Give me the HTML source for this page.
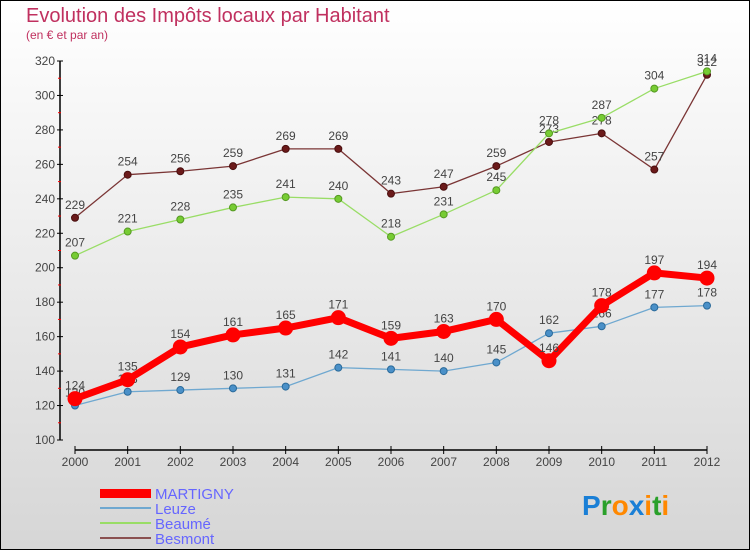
<!DOCTYPE html>
<html><head><meta charset="utf-8"><style>
body{margin:0}
#c{width:750px;height:550px;position:relative;overflow:hidden;font-family:"Liberation Sans",sans-serif}
</style></head><body>
<div id="c">
<svg id="s" width="750" height="550" xmlns="http://www.w3.org/2000/svg">
<defs><linearGradient id="bg" x1="0" y1="0" x2="0" y2="1"><stop offset="0" stop-color="#ffffff"/><stop offset="1" stop-color="#d6d6d6"/></linearGradient></defs>
<rect x="0.5" y="0.5" width="749" height="549" fill="url(#bg)" stroke="#000"/>
<text x="26" y="22" font-size="20" fill="#c0305f">Evolution des Impôts locaux par Habitant</text>
<text x="26" y="39" font-size="12" fill="#c0305f">(en € et par an)</text>
<g id="axes"></g><g id="series"></g>
<g>
<rect x="100" y="489" width="51" height="9" fill="#ff0000"/>
<text x="155" y="499" font-size="15" fill="#6666ff">MARTIGNY</text>
<rect x="100" y="507" width="51" height="2" fill="#6fa8d0"/>
<text x="155" y="514" font-size="15" fill="#6666ff">Leuze</text>
<rect x="100" y="522" width="51" height="2" fill="#99dd66"/>
<text x="155" y="529" font-size="15" fill="#6666ff">Beaumé</text>
<rect x="100" y="537" width="51" height="2" fill="#8a5050"/>
<text x="155" y="544" font-size="15" fill="#6666ff">Besmont</text>
</g>
<text x="582" y="515" font-size="28" font-weight="bold"><tspan fill="#1a7fd6">P</tspan><tspan fill="#2aa02a">r</tspan><tspan fill="#ff8800">o</tspan><tspan fill="#1a7fd6">x</tspan><tspan fill="#ff8800">i</tspan><tspan fill="#2aa02a">t</tspan><tspan fill="#ff8800">i</tspan></text>
</svg>
</div>
<script>
const years=[2000,2001,2002,2003,2004,2005,2006,2007,2008,2009,2010,2011,2012];
const yTicks=[100,120,140,160,180,200,220,240,260,280,300,320];
const martigny=[124,135,154,161,165,171,159,163,170,146,178,197,194];
const leuze=[120,128,129,130,131,142,141,140,145,162,166,177,178];
const beaume=[207,221,228,235,241,240,218,231,245,278,287,304,314];
const besmont=[229,254,256,259,269,269,243,247,259,273,278,257,312];
const NS="http://www.w3.org/2000/svg";
const X=i=>75+i*(707-75)/12;
const Y=v=>440-(v-100)*(440-61)/220;
function mk(t,a,p){const e=document.createElementNS(NS,t);for(const k in a)e.setAttribute(k,a[k]);p.appendChild(e);return e;}
const ax=document.getElementById('axes');
let l=mk('line',{x1:60,y1:Y(320),x2:60,y2:Y(100),stroke:'#000','stroke-width':1.5},ax);


l=mk('line',{x1:X(0),y1:450,x2:X(12),y2:450,stroke:'#000','stroke-width':1.5},ax);


yTicks.forEach(v=>{
 mk('line',{x1:57,y1:Y(v),x2:63,y2:Y(v),stroke:'#000'},ax);
 if(v<320) mk('line',{x1:58,y1:Y(v+10),x2:61,y2:Y(v+10),stroke:'#ff0000'},ax);
 const t=mk('text',{x:55,y:Y(v)+4,'font-size':12,'text-anchor':'end',fill:'#444'},ax);t.textContent=v;
 
 
});
years.forEach((y,i)=>{
 mk('line',{x1:X(i),y1:446,x2:X(i),y2:454,stroke:'#000'},ax);
 const t=mk('text',{x:X(i),y:466,'font-size':12,'text-anchor':'middle',fill:'#444'},ax);t.textContent=y;
 
 
});
const sg=document.getElementById('series');
function series(d,name,col,w,r,dot,dotStroke){
 const g=mk('g',{},sg);
 
 
 mk('polyline',{points:d.map((v,i)=>X(i)+','+Y(v)).join(' '),fill:'none',stroke:col,'stroke-width':w,'stroke-linejoin':'round'},g);
 d.forEach((v,i)=>{
  const c=mk('circle',{cx:X(i),cy:Y(v),r:r,fill:dot,stroke:dotStroke,'stroke-width':1},g);
  
  
  const t=mk('text',{x:X(i),y:Y(v)-9,'font-size':12,'text-anchor':'middle',fill:'#444'},g);t.textContent=v;
  
  
 });
}
series(besmont,'besmont','#7a3535',1.3,3.5,'#6b1a1a','#4a0f0f');
series(beaume,'beaume','#99dd66',1.3,3.5,'#77cc33','#559922');
series(leuze,'leuze','#6fa8d0',1.3,3.5,'#4a90c8','#2a6a9a');
series(martigny,'martigny','#ff0000',7,7,'#ff0000','#ff0000');
</script>
</body></html>
